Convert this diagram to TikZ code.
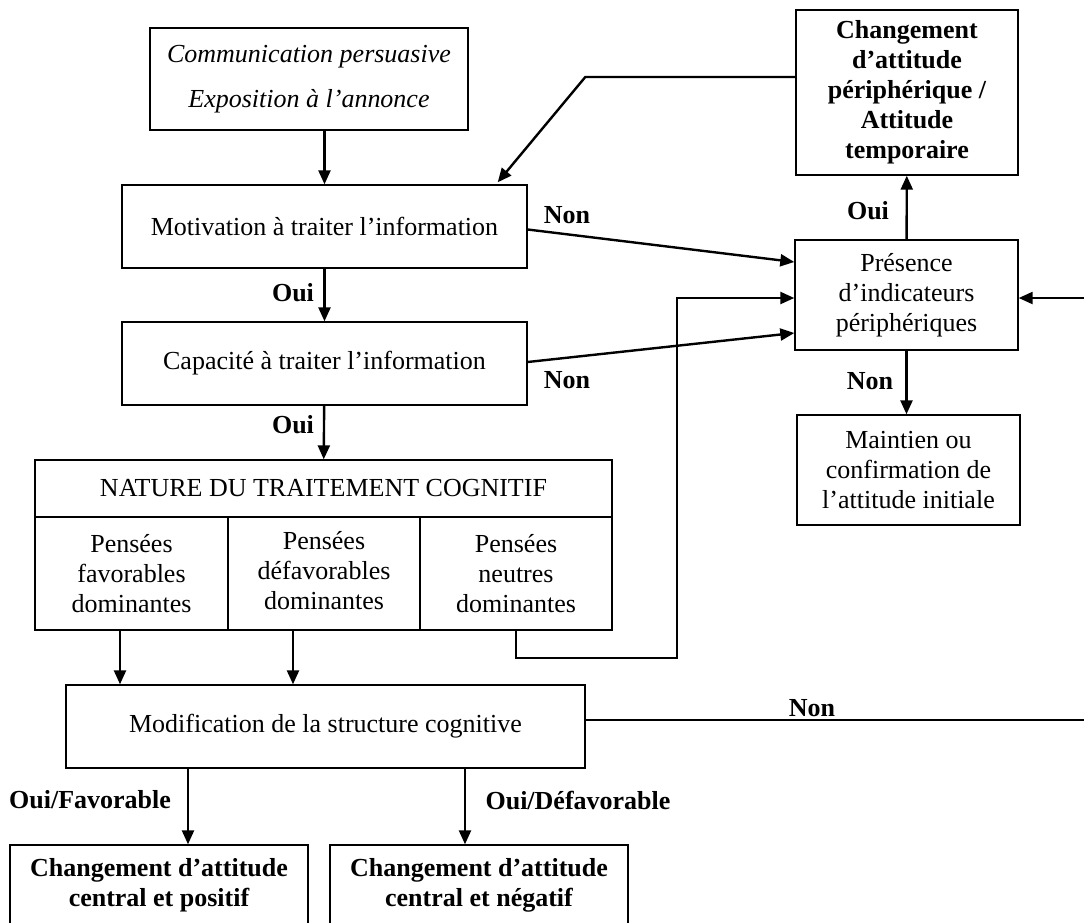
\documentclass[tikz,border=0pt]{standalone}
\usepackage{fontspec}
\setmainfont{Liberation Serif}
\usetikzlibrary{arrows.meta,calc}
\begin{document}
\begin{tikzpicture}[x=0.5pt,y=-0.5pt,
  font=\fontsize{13}{15}\selectfont,
  box/.style={draw,line width=0.7pt,align=center,inner sep=0pt},
  arr/.style={-{Triangle[length=7pt,width=6pt]},line width=1.2pt},
  lab/.style={font=\fontsize{13}{15}\selectfont\bfseries}]
\useasboundingbox (0,0) rectangle (1084,923);
% boxes
\node[box,minimum width=159pt,minimum height=51pt] (comm) at (309,79)
  {\itshape Communication persuasive\\[7.5pt]\itshape Exposition à l’annonce};
\node[box,minimum width=202.5pt,minimum height=41.5pt] (motiv) at (324.5,226.5) {Motivation à traiter l’information};
\node[box,minimum width=202.5pt,minimum height=41.5pt] (capac) at (324.5,363.5) {Capacité à traiter l’information};
\node[box,minimum width=288.5pt,minimum height=28.5pt] (head) at (323.5,488.5) {NATURE DU TRAITEMENT COGNITIF};
\node[box,minimum width=96.5pt,minimum height=56.5pt] (col1) at (131.5,573.5) {Pensées\\favorables\\dominantes};
\node[box,minimum width=96pt,minimum height=56.5pt] (col2) at (324,573.5) {};
\node[align=center,inner sep=0pt] (col2text) at (324,571) {Pensées\\défavorables\\dominantes};
\node[box,minimum width=96pt,minimum height=56.5pt] (col3) at (516,573.5) {Pensées\\neutres\\dominantes};
\node[box,minimum width=111pt,minimum height=82.5pt,font=\fontsize{13}{15}\selectfont\bfseries] (periph) at (907,92.5)
  {Changement\\d’attitude\\périphérique /\\Attitude\\temporaire};
\node[box,minimum width=111.5pt,minimum height=55pt] (presence) at (906.5,295) {Présence\\d’indicateurs\\périphériques};
\node[box,minimum width=111.5pt,minimum height=55pt] (maintien) at (908.5,470) {Maintien ou\\confirmation de\\l’attitude initiale};
\node[box,minimum width=259.5pt,minimum height=41.5pt] (modif) at (325.5,726.5) {Modification de la structure cognitive};
\node[box,minimum width=149pt,minimum height=40.5pt,font=\fontsize{13}{15}\selectfont\bfseries] (posit) at (159,885.5)
  {Changement d’attitude\\central et positif};
\node[box,minimum width=149pt,minimum height=40.5pt,font=\fontsize{13}{15}\selectfont\bfseries] (negat) at (479,885.5)
  {Changement d’attitude\\central et négatif};
% free ends and bends
\coordinate (rin) at (1084,298);
\coordinate (rout) at (1084,720);
\coordinate (f1) at ($(col1.south)+(-11.5,0)$);
\coordinate (f2) at ($(col2.south)+(-31,0)$);
\coordinate (d1) at ($(posit.north)+(29,0)$);
\coordinate (d2) at ($(negat.north)+(-14,0)$);
% connectors
\draw[arr] (motiv.north |- comm.south) -- (motiv.north);
\draw[arr] (motiv) -- (capac);
\draw[arr] (capac) -- (head);
\draw[arr] (f1) -- (f1 |- modif.north);
\draw[arr] (f2) -- (f2 |- modif.north);
\draw[arr] (col3.south) -- ++(0,27) -- ++(161,0) |- ($(presence.west)+(0,3)$);
\draw[arr] ($(motiv.east)+(0,3)$) -- ($(presence.west)+(0,-33)$);
\draw[arr] ($(capac.east)+(0,-1.5)$) -- ($(presence.west)+(0,38)$);
\draw[arr] ($(periph.west)+(0,-15.5)$) -- ++(-210,0) -- ($(motiv.north east)+(-30,-2)$);
\draw[arr] (presence) -- (periph);
\draw[arr] (presence.south) -- (presence.south |- maintien.north);
\draw[arr] (rin) -- (rin -| presence.east);
\draw[line width=1.2pt] (rout -| modif.east) -- (rout);
\draw[arr] (d1 |- modif.south) -- (d1);
\draw[arr] (d2 |- modif.south) -- (d2);
% labels
\node[lab] (nonmotiv) at (567,215) {Non};
\node[lab] (noncapac) at (567,380) {Non};
\node[lab] (ouiperiph) at (868,211) {Oui};
\node[lab] (nonmaint) at (870,381) {Non};
\node[lab] (ouimotiv) at (293,293) {Oui};
\node[lab] (ouicapac) at (293,425) {Oui};
\node[lab] (nonmodif) at (812,708) {Non};
\node[lab] (ouifav) at (90,800) {Oui/Favorable};
\node[lab] (ouidefav) at (578,800) {Oui/Défavorable};
\end{tikzpicture}
\end{document}
